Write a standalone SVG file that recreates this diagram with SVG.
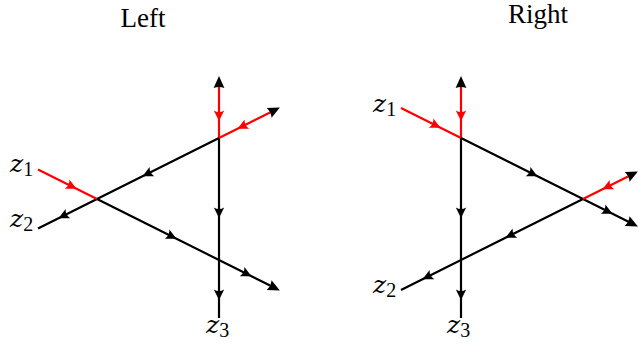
<svg xmlns="http://www.w3.org/2000/svg" xmlns:xlink="http://www.w3.org/1999/xlink" width="638" height="347" viewBox="0 0 638 347">
<style>
.ln{stroke-width:2.2;fill:none;stroke-linecap:butt}
.k{stroke:#000}
.r{stroke:#ff0000}
text{fill:#000}
.title{font-family:"Liberation Serif","DejaVu Serif",serif;font-size:27px}
.z{font-family:"DejaVu Serif","Liberation Serif",serif;font-size:25px;font-style:italic}
.sub{font-family:"Liberation Serif","DejaVu Serif",serif;font-size:20px;font-style:normal}
</style>
<defs>
<path id="head" d="M1,0 L-11,-5.4 Q-9,0 -11,5.4 Z"/>
<path id="mid" d="M5,0 L-5.5,-5.2 Q-2.5,0 -5.5,5.2 Z"/>
</defs>
<rect width="638" height="347" fill="#fff"/>
<g id="titles">
<text class="title" x="143" y="27" text-anchor="middle">Left</text>
<text class="title" x="538" y="23" text-anchor="middle">Right</text>
</g>
<g id="left-labels">
<text class="z" x="10" y="172">z<tspan class="sub" dy="4">1</tspan></text>
<text class="z" x="10" y="227">z<tspan class="sub" dy="4">2</tspan></text>
<text class="z" x="206" y="333">z<tspan class="sub" dy="4">3</tspan></text>
</g>
<g id="right-labels">
<text class="z" x="373" y="112">z<tspan class="sub" dy="4">1</tspan></text>
<text class="z" x="373" y="293">z<tspan class="sub" dy="4">2</tspan></text>
<text class="z" x="447" y="333">z<tspan class="sub" dy="4">3</tspan></text>
</g>
<g id="connectors">
<g id="left-lines">
<line class="ln k" x1="219" y1="138" x2="219" y2="318"/>
<line class="ln r" x1="219" y1="138" x2="219" y2="87"/>
<line class="ln k" x1="38" y1="228.5" x2="219" y2="138"/>
<line class="ln r" x1="219" y1="138" x2="270" y2="112.5"/>
<line class="ln r" x1="38" y1="169.5" x2="97" y2="199"/>
<line class="ln k" x1="97" y1="199" x2="270" y2="285.5"/>
</g>
<g id="left-arrows">
<use xlink:href="#head" fill="#000" transform="translate(219,77) rotate(-90)"/>
<use xlink:href="#head" fill="#000" transform="translate(279,108) rotate(-26.565)"/>
<use xlink:href="#head" fill="#000" transform="translate(279,290) rotate(26.565)"/>
<use xlink:href="#mid" fill="#ff0000" transform="translate(219,116) rotate(90)"/>
<use xlink:href="#mid" fill="#000" transform="translate(219,213) rotate(90)"/>
<use xlink:href="#mid" fill="#000" transform="translate(219,295) rotate(90)"/>
<use xlink:href="#mid" fill="#ff0000" transform="translate(242,126.5) rotate(153.435)"/>
<use xlink:href="#mid" fill="#000" transform="translate(147,174) rotate(153.435)"/>
<use xlink:href="#mid" fill="#000" transform="translate(63,216) rotate(153.435)"/>
<use xlink:href="#mid" fill="#ff0000" transform="translate(72,186.5) rotate(26.565)"/>
<use xlink:href="#mid" fill="#000" transform="translate(172,236.5) rotate(26.565)"/>
<use xlink:href="#mid" fill="#000" transform="translate(247,274) rotate(26.565)"/>
</g>
<g id="right-lines">
<line class="ln k" x1="461" y1="138" x2="461" y2="318"/>
<line class="ln r" x1="461" y1="138" x2="461" y2="87"/>
<line class="ln r" x1="401" y1="108" x2="461" y2="138"/>
<line class="ln k" x1="461" y1="138" x2="629" y2="222"/>
<line class="ln k" x1="401" y1="290" x2="583" y2="199"/>
<line class="ln r" x1="583" y1="199" x2="628" y2="176.5"/>
</g>
<g id="right-arrows">
<use xlink:href="#head" fill="#000" transform="translate(461,77) rotate(-90)"/>
<use xlink:href="#head" fill="#000" transform="translate(637,226) rotate(26.565)"/>
<use xlink:href="#head" fill="#000" transform="translate(637,172) rotate(-26.565)"/>
<use xlink:href="#mid" fill="#ff0000" transform="translate(461,116) rotate(90)"/>
<use xlink:href="#mid" fill="#000" transform="translate(461,213) rotate(90)"/>
<use xlink:href="#mid" fill="#000" transform="translate(461,295) rotate(90)"/>
<use xlink:href="#mid" fill="#ff0000" transform="translate(436,125.5) rotate(26.565)"/>
<use xlink:href="#mid" fill="#000" transform="translate(533,174) rotate(26.565)"/>
<use xlink:href="#mid" fill="#000" transform="translate(608,211.5) rotate(26.565)"/>
<use xlink:href="#mid" fill="#ff0000" transform="translate(607,187) rotate(153.435)"/>
<use xlink:href="#mid" fill="#000" transform="translate(510,235.5) rotate(153.435)"/>
<use xlink:href="#mid" fill="#000" transform="translate(427,277) rotate(153.435)"/>
</g>
</g>
</svg>
